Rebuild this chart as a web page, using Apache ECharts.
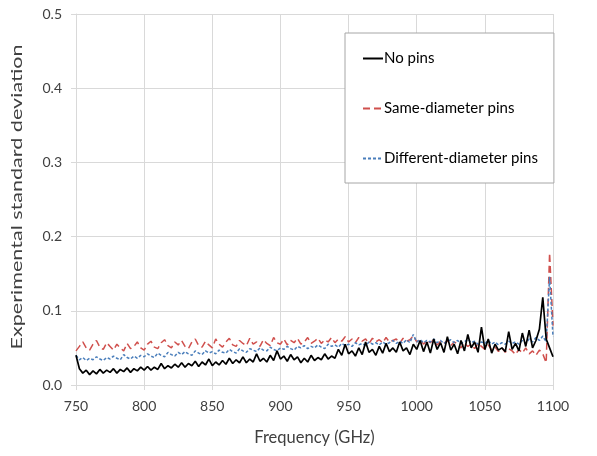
<!DOCTYPE html>
<html>
<head>
<meta charset="utf-8">
<script src="https://cdn.jsdelivr.net/npm/echarts@6/dist/echarts.min.js"></script>
<style>
  html, body { margin: 0; padding: 0; background: #fff; }
  #chart { width: 597px; height: 456px; }
</style>
</head>
<body>
<div id="chart"></div>
<script>
// Frequency sweep: 750 GHz to 1100 GHz in 2.5 GHz steps
const FREQ_START = 750;
const FREQ_STEP = 2.5;

const X_TICKS = [750, 800, 850, 900, 950, 1000, 1050, 1100];
const Y_TICKS = [0.0, 0.1, 0.2, 0.3, 0.4, 0.5];

const SERIES_NAMES = ['No pins', 'Same-diameter pins', 'Different-diameter pins'];
const X_TITLE = 'Frequency (GHz)';
const Y_TITLE = 'Experimental standard deviation';

// Standard deviation per frequency, one row = 25 GHz
const NO_PINS = [
  0.040,0.022,0.016,0.020,0.014,0.019,0.015,0.021,0.016,0.020,
  0.017,0.022,0.016,0.021,0.018,0.023,0.017,0.022,0.019,0.024,
  0.020,0.025,0.020,0.024,0.021,0.029,0.022,0.026,0.023,0.028,
  0.024,0.030,0.024,0.029,0.026,0.032,0.025,0.031,0.027,0.035,
  0.026,0.031,0.027,0.033,0.028,0.036,0.029,0.034,0.030,0.038,
  0.030,0.035,0.031,0.042,0.032,0.036,0.031,0.040,0.033,0.046,
  0.035,0.039,0.032,0.041,0.034,0.038,0.030,0.036,0.031,0.040,
  0.033,0.037,0.034,0.042,0.035,0.039,0.036,0.048,0.040,0.055,
  0.042,0.046,0.039,0.050,0.041,0.058,0.044,0.048,0.040,0.052,
  0.043,0.056,0.045,0.050,0.044,0.058,0.046,0.050,0.041,0.055,
  0.048,0.060,0.045,0.058,0.043,0.062,0.048,0.057,0.044,0.065,
  0.047,0.055,0.042,0.060,0.046,0.068,0.050,0.058,0.044,0.078,
  0.048,0.062,0.043,0.055,0.047,0.050,0.045,0.072,0.048,0.056,
  0.046,0.070,0.052,0.074,0.050,0.060,0.075,0.118,0.062,0.050,
  0.038
];

const SAME_DIAMETER = [
  0.046,0.052,0.058,0.050,0.047,0.055,0.060,0.051,0.048,0.057,
  0.052,0.047,0.055,0.050,0.046,0.056,0.049,0.052,0.058,0.050,
  0.047,0.055,0.059,0.051,0.049,0.057,0.061,0.053,0.050,0.058,
  0.054,0.060,0.052,0.049,0.058,0.062,0.053,0.051,0.059,0.054,
  0.050,0.062,0.055,0.051,0.058,0.063,0.054,0.052,0.060,0.056,
  0.053,0.063,0.055,0.058,0.052,0.061,0.056,0.053,0.064,0.057,
  0.055,0.062,0.054,0.060,0.057,0.063,0.055,0.058,0.064,0.056,
  0.059,0.063,0.056,0.061,0.058,0.064,0.057,0.062,0.059,0.065,
  0.058,0.062,0.057,0.064,0.059,0.062,0.056,0.063,0.058,0.061,
  0.057,0.064,0.058,0.060,0.062,0.056,0.063,0.059,0.061,0.066,
  0.058,0.062,0.055,0.060,0.057,0.061,0.054,0.059,0.056,0.060,
  0.053,0.058,0.055,0.050,0.057,0.052,0.055,0.049,0.056,0.052,
  0.048,0.054,0.047,0.051,0.045,0.050,0.044,0.049,0.046,0.041,
  0.048,0.043,0.050,0.042,0.046,0.040,0.047,0.042,0.030,0.178,
  0.080
];

const DIFFERENT_DIAMETER = [
  0.040,0.034,0.037,0.033,0.036,0.034,0.038,0.035,0.033,0.037,
  0.035,0.039,0.036,0.034,0.041,0.037,0.035,0.039,0.036,0.040,
  0.038,0.042,0.039,0.037,0.043,0.040,0.038,0.044,0.041,0.039,
  0.044,0.041,0.045,0.042,0.040,0.046,0.043,0.041,0.046,0.043,
  0.045,0.042,0.047,0.044,0.043,0.048,0.045,0.043,0.049,0.046,
  0.044,0.049,0.047,0.045,0.050,0.047,0.046,0.051,0.048,0.046,
  0.050,0.048,0.052,0.049,0.047,0.052,0.050,0.053,0.049,0.052,
  0.050,0.054,0.051,0.049,0.055,0.052,0.054,0.051,0.056,0.053,
  0.055,0.052,0.057,0.054,0.056,0.053,0.058,0.055,0.057,0.054,
  0.058,0.055,0.057,0.060,0.056,0.059,0.056,0.061,0.057,0.068,
  0.058,0.061,0.057,0.060,0.058,0.062,0.057,0.060,0.056,0.059,
  0.061,0.057,0.060,0.056,0.058,0.062,0.057,0.059,0.055,0.058,
  0.056,0.060,0.055,0.058,0.054,0.057,0.055,0.059,0.056,0.058,
  0.055,0.060,0.056,0.062,0.058,0.064,0.060,0.066,0.058,0.146,
  0.065
];

function toPairs(values) {
  return values.map((v, i) => [FREQ_START + i * FREQ_STEP, v]);
}

const FONT = 'Lato, "Open Sans", sans-serif';
const TEXT_COLOR = '#404040';
const GRID_COLOR = '#d9d9d9';

// The vertical title is drawn a little elongated along its reading direction
const Y_TITLE_FONT = '15px Lato';
const Y_TITLE_LENGTH = 305;
function textWidth(text, font) {
  const ctx = document.createElement('canvas').getContext('2d');
  ctx.font = font;
  return ctx.measureText(text).width;
}
const yTitleStretch = Y_TITLE_LENGTH / textWidth(Y_TITLE, Y_TITLE_FONT);

const chart = echarts.init(document.getElementById('chart'), null, { renderer: 'canvas' });

chart.setOption({
  animation: false,
  backgroundColor: '#ffffff',
  textStyle: { fontFamily: FONT },
  grid: { left: 76, right: 44, top: 14, bottom: 71, containLabel: false },
  graphic: [{
    type: 'text',
    x: 17,
    y: 197,
    rotation: Math.PI / 2,
    scaleX: yTitleStretch,
    scaleY: 1,
    style: {
      text: Y_TITLE,
      font: Y_TITLE_FONT,
      fill: TEXT_COLOR,
      align: 'center',
      verticalAlign: 'middle'
    }
  }],
  legend: {
    left: 345,
    top: 33,
    orient: 'vertical',
    data: SERIES_NAMES,
    itemWidth: 20,
    itemHeight: 12,
    itemGap: 35,
    padding: [18, 16, 17, 17],
    backgroundColor: '#ffffff',
    borderColor: '#a6a6a6',
    borderWidth: 1,
    borderRadius: 0,
    itemStyle: { opacity: 0 },
    textStyle: { fontFamily: FONT, fontSize: 15, color: '#000', padding: [0, 0, 0, -4] }
  },
  xAxis: {
    type: 'value',
    min: X_TICKS[0],
    max: X_TICKS[X_TICKS.length - 1],
    interval: 50,
    name: X_TITLE,
    nameLocation: 'middle',
    nameGap: 44,
    nameTextStyle: { fontFamily: FONT, fontSize: 16.5, color: TEXT_COLOR },
    axisLine: { show: true, lineStyle: { color: GRID_COLOR, width: 1 } },
    axisTick: { show: true, length: 5, lineStyle: { color: GRID_COLOR } },
    axisLabel: {
      fontFamily: FONT, fontSize: 14, color: TEXT_COLOR, margin: 14,
      formatter: v => String(v)
    },
    splitLine: { show: true, lineStyle: { color: GRID_COLOR, width: 1 } }
  },
  yAxis: {
    type: 'value',
    min: Y_TICKS[0],
    max: Y_TICKS[Y_TICKS.length - 1],
    interval: 0.1,
    axisLine: { show: true, lineStyle: { color: GRID_COLOR, width: 1 } },
    axisTick: { show: true, length: 5, lineStyle: { color: GRID_COLOR } },
    axisLabel: {
      fontFamily: FONT, fontSize: 14, color: TEXT_COLOR, margin: 14,
      formatter: v => v.toFixed(1)
    },
    splitLine: { show: true, lineStyle: { color: GRID_COLOR, width: 1 } }
  },
  series: [
    {
      name: SERIES_NAMES[0],
      type: 'line',
      data: toPairs(NO_PINS),
      symbol: 'none',
      color: '#000000',
      lineStyle: { color: '#000000', width: 1.7 },
      z: 3
    },
    {
      name: SERIES_NAMES[1],
      type: 'line',
      data: toPairs(SAME_DIAMETER),
      symbol: 'none',
      color: '#d0504d',
      lineStyle: { color: '#d0504d', width: 1.5, type: [7, 4] },
      z: 2
    },
    {
      name: SERIES_NAMES[2],
      type: 'line',
      data: toPairs(DIFFERENT_DIAMETER),
      symbol: 'none',
      color: '#4a7ebb',
      lineStyle: { color: '#4a7ebb', width: 1.5, type: [3, 2] },
      z: 2
    }
  ]
});
</script>
</body>
</html>
